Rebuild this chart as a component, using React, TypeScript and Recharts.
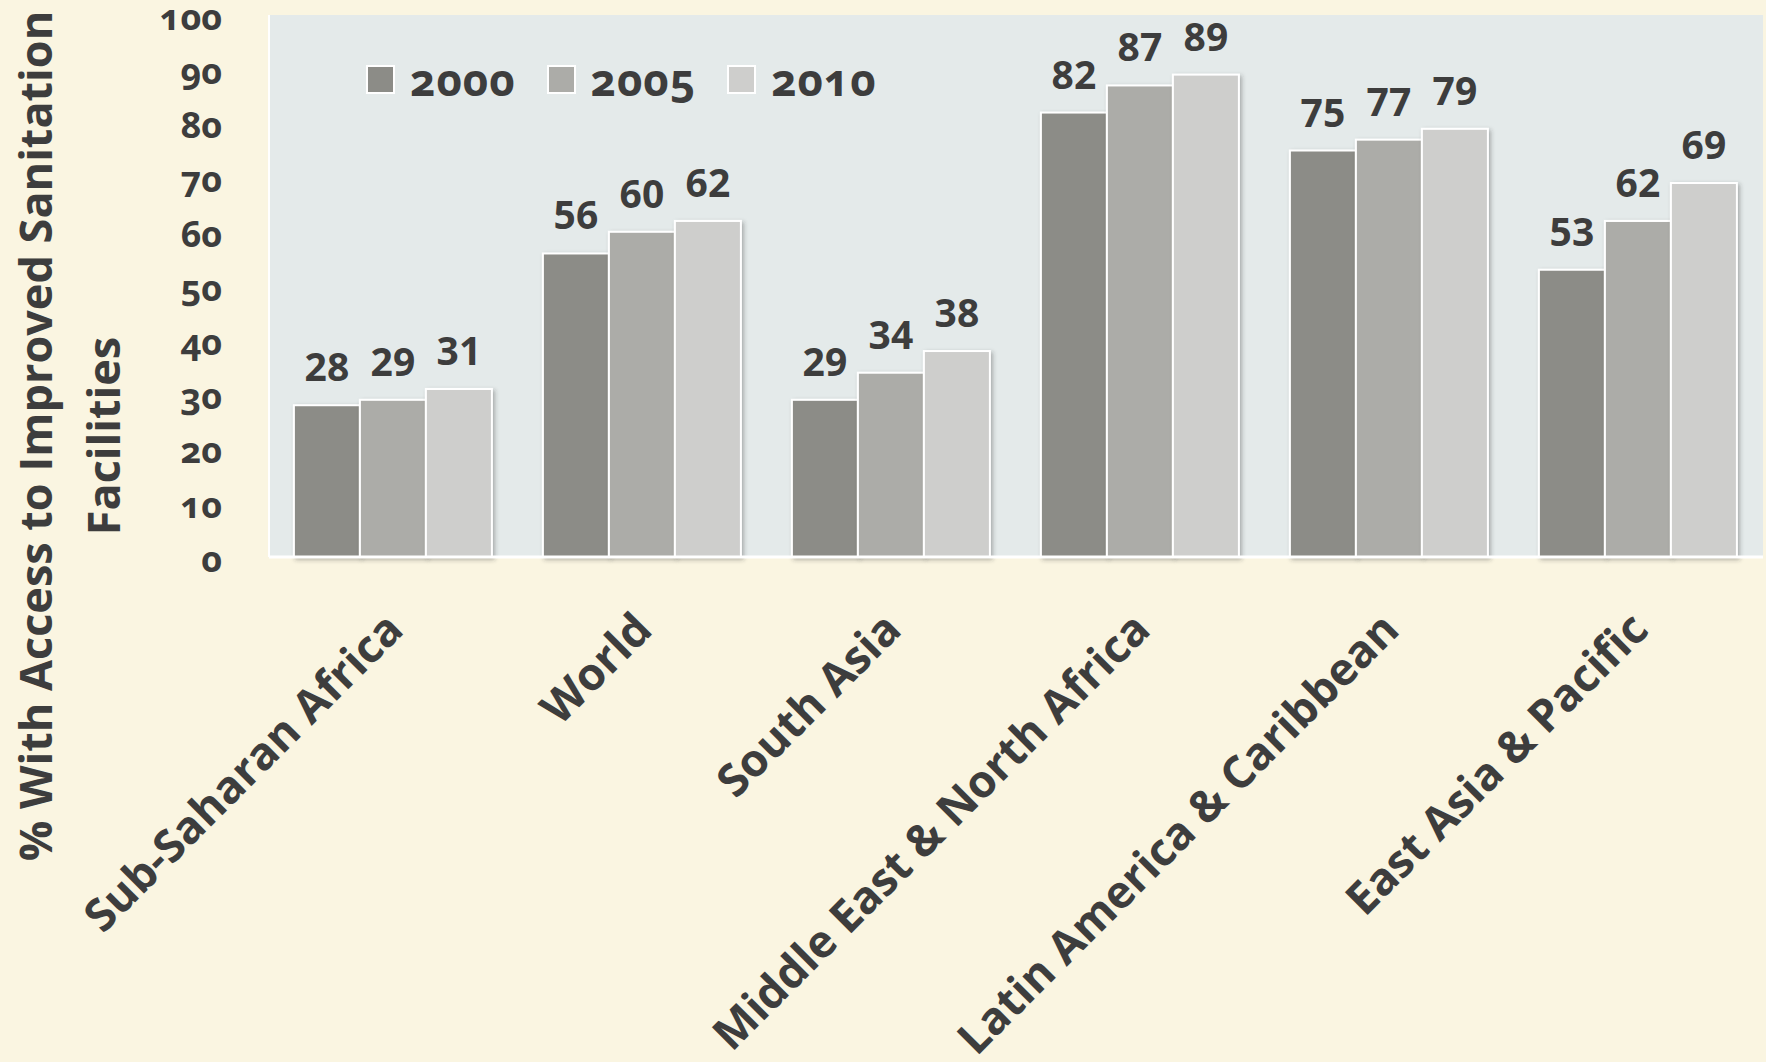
import { Bar, BarChart, CartesianGrid, LabelList, Legend, XAxis, YAxis } from "recharts"

const regions = [
  "Sub-Saharan Africa",
  "World",
  "South Asia",
  "Middle East & North Africa",
  "Latin America & Caribbean",
  "East Asia & Pacific",
]
const years = ["2000", "2005", "2010"]
const values2000 = [28, 56, 29, 82, 75, 53]
const values2005 = [29, 60, 34, 87, 77, 62]
const values2010 = [31, 62, 38, 89, 79, 69]
const yTicks = [0, 10, 20, 30, 40, 50, 60, 70, 80, 90, 100]
const yTitleLines = ["% With Access to Improved Sanitation", "Facilities"]

const barColors = ["#8c8c87", "#acaca8", "#cececc"]
const ink = "#3d3d3d"
const font = "'Open Sans', sans-serif"

const data = regions.map((region, i) => ({
  region,
  y2000: values2000[i],
  y2005: values2005[i],
  y2010: values2010[i],
}))
const seriesKeys = ["y2000", "y2005", "y2010"]

function RegionTick({ x, y, payload }: any) {
  const ax = x + 12
  const ay = y + 75
  return (
    <text
      x={ax}
      y={ay}
      transform={`rotate(-45, ${ax}, ${ay})`}
      textAnchor="end"
      fill={ink}
      fontFamily={font}
      fontWeight={700}
      fontSize={45}
    >
      {payload.value}
    </text>
  )
}

function ValueTick({ x, y, payload }: any) {
  return (
    <text
      x={x}
      y={y + 2}
      dy="0.355em"
      textAnchor="end"
      fill={ink}
      fontFamily={font}
      fontWeight={700}
      fontSize={36}
      style={{ fontVariantNumeric: "oldstyle-nums" }}
    >
      {payload.value}
    </text>
  )
}

// y title sits centred on the figure, not on the plot area
function YTitle() {
  return (
    <text
      x={52}
      y={436}
      transform="rotate(-90, 52, 436)"
      textAnchor="middle"
      fill={ink}
      fontFamily={font}
      fontWeight={700}
      fontSize={45}
    >
      <tspan x={52}>{yTitleLines[0]}</tspan>
      <tspan x={52} dy={68}>
        {yTitleLines[1]}
      </tspan>
    </text>
  )
}

const shadowBar = (fill: string) => (props: any) => {
  if (!props.height) return null
  return (
    <rect
      x={props.x}
      y={props.y}
      width={props.width}
      height={props.height}
      fill={fill}
      stroke="#fff"
      strokeWidth={2}
      filter="url(#barShadow)"
    />
  )
}

function YearLegend({ payload }: any) {
  return (
    <div style={{ display: "flex", alignItems: "center", fontFamily: font, fontWeight: 700 }}>
      {(payload || []).map((item: any, i: number) => (
        <div key={item.value} style={{ display: "flex", alignItems: "center", marginLeft: i === 0 ? 0 : 31 }}>
          <span
            style={{
              display: "inline-block",
              width: 25,
              height: 25,
              background: item.color,
              border: "2px solid #fff",
            }}
          />
          <span
            style={{
              marginLeft: 15,
              fontSize: 44,
              lineHeight: 1,
              color: ink,
              letterSpacing: 1,
              fontVariantNumeric: "oldstyle-nums",
            }}
          >
            {item.value}
          </span>
        </div>
      ))}
    </div>
  )
}

export default function App() {
  return (
    <div
      style={{
        position: "absolute",
        top: 0,
        left: 0,
        width: 1766,
        height: 1062,
        background: "#faf5e1",
        overflow: "hidden",
      }}
    >
      <BarChart
        width={1766}
        height={1062}
        data={data}
        margin={{ top: 15, right: 3, left: 0, bottom: 0 }}
        barCategoryGap="10%"
        barGap={0}
      >
        <defs>
          <filter id="barShadow" x="-20%" y="-20%" width="140%" height="140%">
            <feDropShadow dx="2" dy="2" stdDeviation="2" floodColor="#333" floodOpacity="0.35" />
          </filter>
        </defs>
        <CartesianGrid fill="#e4eaea" fillOpacity={1} horizontal={false} vertical={false} />
        <XAxis
          dataKey="region"
          height={505}
          interval={0}
          tickLine={false}
          tickSize={0}
          tickMargin={0}
          axisLine={{ stroke: "#fff", strokeWidth: 3 }}
          tick={<RegionTick />}
        />
        <YAxis
          width={269}
          domain={[0, 100]}
          ticks={yTicks}
          interval={0}
          tickLine={false}
          tickSize={0}
          tickMargin={47}
          axisLine={{ stroke: "#fff", strokeWidth: 2 }}
          tick={<ValueTick />}
          label={<YTitle />}
        />
        <Legend
          layout="horizontal"
          verticalAlign="middle"
          align="center"
          wrapperStyle={{ top: 57, left: 366, width: "auto", height: "auto" }}
          content={<YearLegend />}
        />
        {seriesKeys.map((key, i) => (
          <Bar
            key={key}
            dataKey={key}
            name={years[i]}
            fill={barColors[i]}
            shape={shadowBar(barColors[i])}
            isAnimationActive={false}
          >
            <LabelList
              dataKey={key}
              position="top"
              offset={24}
              fill={ink}
              fontFamily={font}
              fontWeight={700}
              fontSize={39}
            />
          </Bar>
        ))}
      </BarChart>
    </div>
  )
}
